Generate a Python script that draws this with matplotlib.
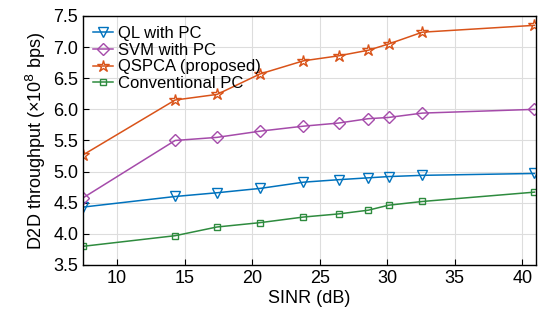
import matplotlib
matplotlib.use("Agg")
import matplotlib.pyplot as plt

plt.rcParams['font.family'] = ['Liberation Sans', 'DejaVu Sans']

sinr = [7.5, 14.3, 17.4, 20.6, 23.8, 26.4, 28.6, 30.1, 32.6, 40.9]
ql = [4.43, 4.60, 4.66, 4.73, 4.83, 4.87, 4.90, 4.92, 4.94, 4.97]
svm = [4.58, 5.50, 5.55, 5.65, 5.73, 5.78, 5.85, 5.87, 5.94, 6.00]
qspca = [5.27, 6.15, 6.24, 6.57, 6.78, 6.86, 6.95, 7.05, 7.24, 7.35]
conv = [3.80, 3.97, 4.11, 4.18, 4.27, 4.32, 4.38, 4.46, 4.52, 4.67]

fig = plt.figure(figsize=(5.44, 3.2), dpi=100)
ax = fig.add_axes([0.153, 0.172, 0.832, 0.778])

ax.plot(sinr, ql, color='#0072BD', marker='v', ms=7, mfc='none', lw=1.1, label='QL with PC')
ax.plot(sinr, svm, color='#A54BAA', marker='D', ms=6, mfc='none', lw=1.1, label='SVM with PC')
ax.plot(sinr, qspca, color='#D95319', marker='*', ms=9, mfc='none', lw=1.1, label='QSPCA (proposed)')
ax.plot(sinr, conv, color='#2E8B3E', marker='s', ms=5, mfc='none', lw=1.1, label='Conventional PC')

ax.set_xlim(7.5, 41)
ax.set_ylim(3.5, 7.5)
ax.set_xticks([10, 15, 20, 25, 30, 35, 40])
ax.set_yticks([3.5, 4.0, 4.5, 5.0, 5.5, 6.0, 6.5, 7.0, 7.5])
ax.set_yticklabels(['3.5', '4.0', '4.5', '5.0', '5.5', '6.0', '6.5', '7.0', '7.5'])
ax.grid(True, color='#dddddd', lw=0.8)
ax.tick_params(direction='in', labelsize=13, length=4)
for s in ax.spines.values():
    s.set_linewidth(1.0)
ax.set_xlabel('SINR (dB)', fontsize=13, labelpad=2)
ax.set_ylabel('D2D throughput (×10$^8$ bps)', fontsize=13, labelpad=4)
ax.legend(loc='upper left', frameon=False, fontsize=12, handlelength=1.2,
          handletextpad=0.3, labelspacing=0.1, borderaxespad=0.2)

fig.savefig('out.png', dpi=100)
